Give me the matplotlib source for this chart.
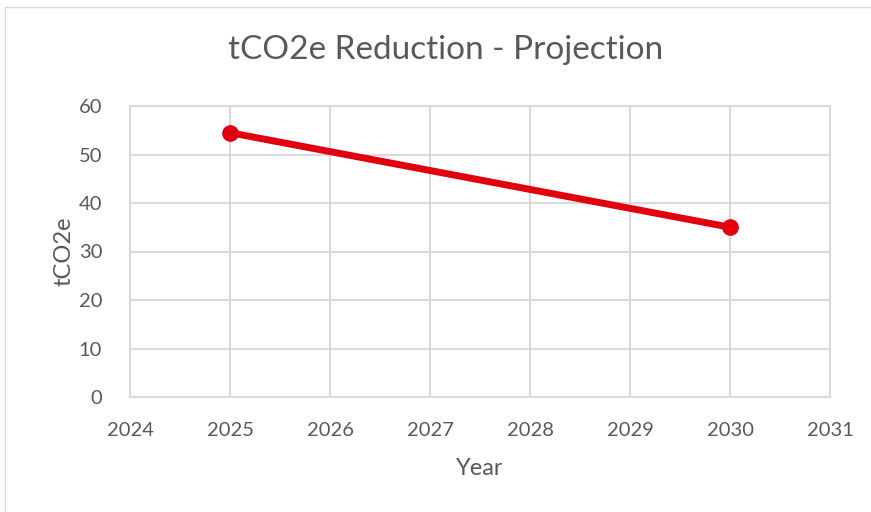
import matplotlib
matplotlib.use("Agg")
import matplotlib.pyplot as plt
from matplotlib.patches import Rectangle

# データ
years = [2025, 2030]
tco2e = [54.5, 35.0]
x_ticks = [2024, 2025, 2026, 2027, 2028, 2029, 2030, 2031]
y_ticks = [0, 10, 20, 30, 40, 50, 60]

plt.rcParams['font.family'] = ['Lato', 'DejaVu Sans']
txt = '#595959'
grid = '#D9D9D9'

fig = plt.figure(figsize=(8.71, 5.12), dpi=100)
fig.patch.set_facecolor('white')

# 外枠
W, H = 871, 512
fig.patches.append(Rectangle((5 / W, -0.1), 1.2, (H - 7) / H + 0.1,
                             transform=fig.transFigure, fill=False,
                             edgecolor=grid, linewidth=1.0))

ax = fig.add_axes([130 / W, 1 - 397 / H, 700 / W, 291 / H])
ax.set_xlim(2024, 2031)
ax.set_ylim(0, 60)
ax.set_xticks(x_ticks)
ax.set_yticks(y_ticks)
ax.grid(True, color=grid, linewidth=1.5, clip_on=False)
for line in ax.get_xgridlines() + ax.get_ygridlines():
    line.set_clip_on(False)
ax.set_axisbelow(True)
for s in ax.spines.values():
    s.set_visible(False)
ax.tick_params(axis='x', length=0, labelsize=14.5, colors=txt, pad=18)
ax.tick_params(axis='y', length=0, labelsize=14.5, colors=txt, pad=20)

ax.plot(years, tco2e, color='#E00010', linewidth=5, marker='o',
        markersize=11, solid_capstyle='round', clip_on=False)

# タイトルは図全体の中央
fig.text(446 / W, 1 - 50 / H, 'tCO2e Reduction - Projection', fontsize=24,
         color=txt, ha='center', va='center')
ax.set_xlabel('Year', fontsize=17, color=txt, labelpad=14)
ax.set_ylabel('tCO2e', fontsize=17, color=txt, labelpad=3)

fig.savefig('out.png', dpi=100)
